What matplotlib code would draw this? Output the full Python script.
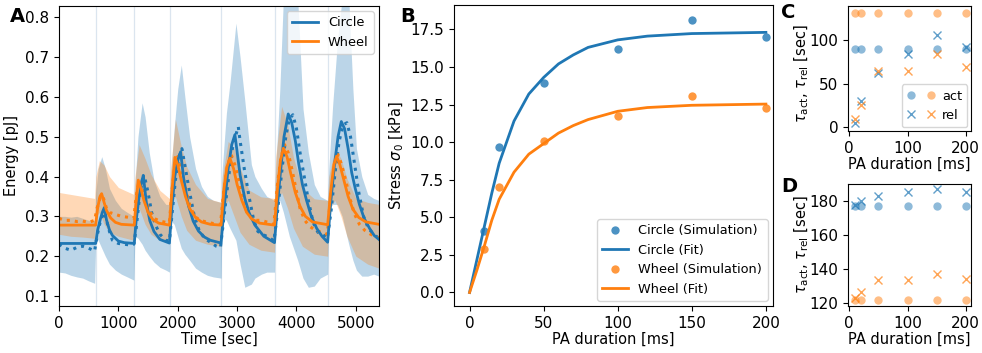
import numpy as np
import matplotlib
matplotlib.use("Agg")
import matplotlib.pyplot as plt
from matplotlib.legend_handler import HandlerTuple

plt.rcParams['font.size'] = 10.5
plt.rcParams['xtick.labelsize'] = 11
plt.rcParams['ytick.labelsize'] = 11
plt.rcParams['legend.fontsize'] = 9.3

BLUE = '#1f77b4'
ORANGE = '#ff7f0e'

# ---- panel A: energy traces (knots) ----
onsets = [619, 1270, 1865, 2730, 3632, 4525]

t_fit_c = [0, 618, 650, 700, 730, 763, 800, 850, 900, 1000, 1100, 1268,
           1300, 1350, 1390, 1420, 1470, 1530, 1600, 1700, 1860,
           1900, 1950, 2000, 2048, 2100, 2180, 2260, 2350, 2450, 2550, 2730,
           2780, 2850, 2910, 2963, 3050, 3130, 3200, 3300, 3450, 3630,
           3680, 3730, 3790, 3861, 3920, 3980, 4040, 4100, 4170, 4250, 4340, 4430, 4525,
           4580, 4640, 4700, 4755, 4810, 4870, 4930, 4990, 5060, 5140, 5230, 5310, 5390]
e_fit_c = [0.232, 0.232, 0.265, 0.295, 0.31, 0.322, 0.291, 0.266, 0.252, 0.238, 0.234, 0.232,
           0.29, 0.35, 0.385, 0.403, 0.336, 0.289, 0.262, 0.242, 0.233,
           0.32, 0.40, 0.44, 0.462, 0.395, 0.327, 0.288, 0.263, 0.248, 0.240, 0.233,
           0.32, 0.42, 0.48, 0.505, 0.404, 0.345, 0.310, 0.278, 0.250, 0.234,
           0.33, 0.41, 0.50, 0.557, 0.535, 0.49, 0.43, 0.38, 0.34, 0.30, 0.27, 0.25, 0.235,
           0.34, 0.43, 0.50, 0.538, 0.52, 0.47, 0.41, 0.37, 0.33, 0.295, 0.27, 0.252, 0.242]

t_fit_w = [0, 618, 650, 690, 718, 760, 800, 870, 950, 1050, 1268,
           1295, 1335, 1380, 1430, 1500, 1580, 1680, 1860,
           1900, 1953, 2000, 2060, 2130, 2200, 2300, 2400, 2550, 2730,
           2780, 2830, 2879, 2940, 3000, 3080, 3160, 3250, 3380, 3630,
           3680, 3730, 3780, 3840, 3900, 3980, 4060, 4150, 4270, 4525,
           4575, 4630, 4675, 4730, 4800, 4870, 4950, 5050, 5170, 5390]
e_fit_w = [0.278, 0.278, 0.32, 0.35, 0.357, 0.335, 0.315, 0.296, 0.285, 0.28, 0.278,
           0.33, 0.391, 0.37, 0.34, 0.31, 0.292, 0.283, 0.278,
           0.36, 0.448, 0.43, 0.39, 0.35, 0.32, 0.297, 0.286, 0.28, 0.278,
           0.37, 0.425, 0.446, 0.42, 0.38, 0.34, 0.31, 0.293, 0.283, 0.278,
           0.37, 0.44, 0.471, 0.45, 0.41, 0.36, 0.325, 0.30, 0.286, 0.279,
           0.36, 0.43, 0.451, 0.43, 0.39, 0.35, 0.318, 0.297, 0.286, 0.28]

t_sim_c = [0, 100, 200, 300, 400, 500, 600, 640, 700, 760, 800, 850, 900, 1000, 1100, 1200, 1260,
           1300, 1350, 1400, 1440, 1500, 1560, 1620, 1700, 1800, 1860,
           1900, 1960, 2020, 2070, 2130, 2200, 2280, 2360, 2450, 2550, 2650, 2720,
           2780, 2850, 2920, 2990, 3020, 3050, 3120, 3200, 3280, 3350, 3420, 3500, 3560, 3620,
           3680, 3750, 3820, 3880, 3940, 4000, 4060, 4130, 4200, 4280, 4360, 4440, 4520,
           4580, 4650, 4720, 4790, 4850, 4910, 4980, 5050, 5130, 5210, 5300, 5390]
e_sim_c = [0.230, 0.220, 0.215, 0.222, 0.225, 0.220, 0.213, 0.25, 0.29, 0.31, 0.29, 0.262, 0.24, 0.232, 0.230, 0.228, 0.230,
           0.27, 0.34, 0.39, 0.40, 0.36, 0.31, 0.28, 0.255, 0.24, 0.238,
           0.30, 0.39, 0.45, 0.47, 0.42, 0.36, 0.30, 0.265, 0.245, 0.235, 0.225, 0.222,
           0.30, 0.39, 0.47, 0.51, 0.525, 0.49, 0.42, 0.35, 0.29, 0.262, 0.255, 0.25, 0.245, 0.238,
           0.31, 0.41, 0.50, 0.545, 0.555, 0.52, 0.46, 0.40, 0.34, 0.285, 0.26, 0.255, 0.245,
           0.31, 0.41, 0.49, 0.53, 0.535, 0.50, 0.43, 0.36, 0.30, 0.27, 0.255, 0.245]

t_sim_w = [0, 100, 200, 300, 400, 500, 600, 640, 700, 740, 800, 850, 950, 1050, 1150, 1260,
           1300, 1350, 1400, 1450, 1520, 1600, 1700, 1800, 1860,
           1900, 1960, 2000, 2060, 2130, 2200, 2280, 2380, 2500, 2600, 2720,
           2780, 2840, 2900, 2960, 3030, 3100, 3180, 3280, 3400, 3520, 3620,
           3680, 3740, 3800, 3860, 3920, 3990, 4060, 4140, 4220, 4320, 4420, 4520,
           4580, 4640, 4700, 4760, 4830, 4900, 4980, 5060, 5150, 5250, 5390]
e_sim_w = [0.295, 0.29, 0.29, 0.287, 0.288, 0.285, 0.29, 0.32, 0.35, 0.35, 0.32, 0.31, 0.305, 0.30, 0.298, 0.295,
           0.35, 0.39, 0.375, 0.345, 0.315, 0.295, 0.288, 0.285, 0.285,
           0.36, 0.44, 0.45, 0.42, 0.37, 0.33, 0.30, 0.29, 0.285, 0.282, 0.28,
           0.37, 0.43, 0.455, 0.43, 0.39, 0.34, 0.305, 0.29, 0.29, 0.285, 0.28,
           0.38, 0.45, 0.48, 0.46, 0.42, 0.37, 0.32, 0.29, 0.275, 0.265, 0.26, 0.255,
           0.36, 0.43, 0.455, 0.43, 0.39, 0.345, 0.305, 0.28, 0.265, 0.255, 0.245]

t_band_c = [0, 100, 200, 300, 400, 500, 600, 620, 660, 720, 780, 850, 950, 1050, 1150, 1260,
            1280, 1330, 1400, 1450, 1520, 1600, 1700, 1800, 1860,
            1880, 1940, 2000, 2060, 2120, 2200, 2300, 2400, 2500, 2600, 2730,
            2750, 2820, 2880, 2980, 3050, 3130, 3240, 3300, 3410, 3500, 3630,
            3650, 3720, 3780, 3880, 4020, 4110, 4200, 4300, 4400, 4525,
            4545, 4610, 4690, 4770, 4880, 4950, 5010, 5100, 5200, 5300, 5390]
c_lo = [0.160, 0.158, 0.152, 0.148, 0.145, 0.138, 0.132, 0.25, 0.24, 0.22, 0.20, 0.18, 0.165, 0.155, 0.148, 0.14,
        0.25, 0.245, 0.23, 0.215, 0.20, 0.185, 0.172, 0.165, 0.16,
        0.29, 0.28, 0.25, 0.22, 0.205, 0.19, 0.17, 0.16, 0.152, 0.148, 0.145,
        0.30, 0.29, 0.27, 0.24, 0.18, 0.122, 0.13, 0.145, 0.155, 0.16, 0.16,
        0.33, 0.34, 0.31, 0.25, 0.19, 0.145, 0.122, 0.125, 0.145, 0.155,
        0.32, 0.33, 0.33, 0.30, 0.23, 0.19, 0.165, 0.15, 0.15, 0.155, 0.15]
c_hi = [0.30, 0.30, 0.298, 0.30, 0.295, 0.29, 0.29, 0.36, 0.42, 0.45, 0.42, 0.37, 0.34, 0.32, 0.31, 0.30,
        0.38, 0.50, 0.585, 0.55, 0.46, 0.39, 0.35, 0.33, 0.33,
        0.40, 0.52, 0.62, 0.68, 0.60, 0.50, 0.42, 0.375, 0.35, 0.34, 0.335,
        0.42, 0.56, 0.635, 0.785, 0.70, 0.59, 0.43, 0.40, 0.37, 0.35, 0.34,
        0.42, 0.62, 0.85, 0.85, 0.85, 0.57, 0.46, 0.38, 0.35, 0.34,
        0.42, 0.58, 0.74, 0.85, 0.85, 0.62, 0.47, 0.40, 0.355, 0.345, 0.34]

t_band_w = [0, 200, 400, 600, 620, 680, 760, 850, 1000, 1260,
            1280, 1350, 1450, 1550, 1700, 1860,
            1880, 1960, 2060, 2150, 2300, 2500, 2730,
            2750, 2850, 2950, 3050, 3200, 3400, 3630,
            3650, 3750, 3850, 3950, 4100, 4300, 4525,
            4545, 4650, 4750, 4850, 5000, 5200, 5390]
w_lo = [0.255, 0.25, 0.248, 0.245, 0.30, 0.31, 0.28, 0.26, 0.25, 0.24,
        0.30, 0.32, 0.28, 0.255, 0.24, 0.235,
        0.33, 0.35, 0.30, 0.265, 0.24, 0.23, 0.225,
        0.32, 0.34, 0.30, 0.26, 0.23, 0.215, 0.21,
        0.33, 0.36, 0.32, 0.27, 0.225, 0.205, 0.20,
        0.32, 0.34, 0.30, 0.25, 0.20, 0.18, 0.17]
t_hi_w = [0, 200, 400, 600, 620, 680, 720, 780, 850, 950, 1050, 1260,
          1280, 1330, 1360, 1420, 1500, 1600, 1700, 1860,
          1880, 1950, 2000, 2080, 2160, 2260, 2380, 2500, 2730,
          2750, 2830, 2880, 2950, 3030, 3120, 3220, 3350, 3630,
          3650, 3720, 3776, 3840, 3920, 4000, 4100, 4250, 4525,
          4545, 4620, 4674, 4740, 4820, 4900, 5000, 5200, 5390]
w_hi = [0.36, 0.355, 0.35, 0.345, 0.40, 0.44, 0.446, 0.42, 0.40, 0.38, 0.365, 0.355,
        0.40, 0.47, 0.485, 0.46, 0.42, 0.39, 0.365, 0.345,
        0.42, 0.55, 0.52, 0.46, 0.42, 0.39, 0.36, 0.345, 0.335,
        0.40, 0.48, 0.50, 0.47, 0.43, 0.39, 0.36, 0.35, 0.345,
        0.45, 0.56, 0.59, 0.54, 0.47, 0.41, 0.37, 0.345, 0.34,
        0.40, 0.46, 0.48, 0.45, 0.41, 0.37, 0.345, 0.335, 0.33]

# ---- panel B: peak stress vs PA duration ----
pa = [10, 20, 50, 100, 150, 200]
stress_c = [4.1, 9.7, 13.9, 16.2, 18.1, 17.0]
stress_w = [2.9, 7.0, 10.1, 11.75, 13.1, 12.3]
pa_fit = [0, 5, 10, 15, 20, 30, 40, 50, 60, 70, 80, 100, 120, 150, 200]
fit_c = [0, 2.2, 4.4, 6.6, 8.6, 11.4, 13.2, 14.3, 15.2, 15.8, 16.3, 16.8, 17.05, 17.22, 17.3]
fit_w = [0, 1.5, 3.1, 4.8, 6.2, 8.0, 9.2, 9.9, 10.6, 11.1, 11.5, 12.05, 12.3, 12.45, 12.53]

# ---- panels C/D: time constants ----
tact_c_C = [90, 90, 90, 90, 90, 90]
tact_w_C = [131, 131, 131, 131, 131, 131]
trel_c_C = [5, 30.5, 62, 84, 105.5, 92]
trel_w_C = [10, 25.5, 65, 65, 83.5, 69.5]
tact_c_D = [177, 177, 177, 177, 177, 177]
tact_w_D = [121.3, 121.3, 121.3, 121.3, 121.3, 121.3]
trel_c_D = [177.5, 180, 183, 185, 187, 185.5]
trel_w_D = [123, 126, 133.5, 133.5, 137, 134]

W, H = 982, 353
fig = plt.figure(figsize=(W / 100, H / 100), dpi=100)

def box(l, r, t, b):
    return [l / W, 1 - b / H, (r - l) / W, (b - t) / H]

axA = fig.add_axes(box(59, 379, 6, 306))
axB = fig.add_axes(box(454, 772.7, 5.3, 306))
axC = fig.add_axes(box(848, 971, 5.7, 131))
axD = fig.add_axes(box(848, 971, 184, 306))

# A
for t0 in onsets:
    axA.axvline(t0, color='#dbe5ef', lw=0.9, zorder=0)
axA.fill_between(t_band_c, c_lo, c_hi, color=BLUE, alpha=0.3, lw=0)
axA.fill_between(t_band_w, w_lo, np.interp(t_band_w, t_hi_w, w_hi), color=ORANGE, alpha=0.3, lw=0)
axA.plot(t_sim_c, e_sim_c, ':', color=BLUE, lw=2.2)
axA.plot(t_sim_w, e_sim_w, ':', color=ORANGE, lw=2.2)
axA.plot(t_fit_c, e_fit_c, '-', color=BLUE, lw=2, label='Circle')
axA.plot(t_fit_w, e_fit_w, '-', color=ORANGE, lw=2, label='Wheel')
axA.set_xlim(0, 5390)
axA.set_ylim(0.075, 0.828)
axA.set_xticks([0, 1000, 2000, 3000, 4000, 5000])
axA.set_yticks([0.1, 0.2, 0.3, 0.4, 0.5, 0.6, 0.7, 0.8])
axA.set_xlabel('Time [sec]', labelpad=1)
axA.set_ylabel('Energy [pJ]', labelpad=4)
axA.legend(loc='upper right', handlelength=2.0, borderaxespad=0.4)

# B
axB.plot(pa, stress_c, 'o', color=BLUE, alpha=0.8, ms=6, mec='none', label='Circle (Simulation)')
axB.plot(pa_fit, fit_c, '-', color=BLUE, lw=2, label='Circle (Fit)')
axB.plot(pa, stress_w, 'o', color=ORANGE, alpha=0.8, ms=6, mec='none', label='Wheel (Simulation)')
axB.plot(pa_fit, fit_w, '-', color=ORANGE, lw=2, label='Wheel (Fit)')
axB.set_xlim(-10.5, 204.6)
axB.set_ylim(-0.9, 19.1)
axB.set_xticks([0, 50, 100, 150, 200])
axB.set_yticks(np.arange(0, 17.6, 2.5))
axB.yaxis.set_major_formatter(matplotlib.ticker.FormatStrFormatter('%.1f'))
axB.set_xlabel('PA duration [ms]', labelpad=1)
axB.set_ylabel(r'Stress $\sigma_0$ [kPa]', labelpad=3)
axB.legend(loc='lower right', borderaxespad=0.4)

# C and D
def tau_panel(ax, act_c, act_w, rel_c, rel_w, with_legend):
    ac, = ax.plot(pa, act_c, 'o', color=BLUE, alpha=0.5, ms=6, mec='none')
    aw, = ax.plot(pa, act_w, 'o', color=ORANGE, alpha=0.5, ms=6, mec='none')
    rc, = ax.plot(pa, rel_c, 'x', color=BLUE, alpha=0.7, ms=5.5)
    rw, = ax.plot(pa, rel_w, 'x', color=ORANGE, alpha=0.7, ms=5.5)
    ax.set_xlim(-2.2, 209)
    ax.set_xticks([0, 100, 200])
    ax.set_xlabel('PA duration [ms]', labelpad=1)
    ax.set_ylabel(r'$\tau_\mathrm{act}$, $\tau_\mathrm{rel}$ [sec]')
    if with_legend:
        ax.legend([(ac, aw), (rc, rw)], ['act', 'rel'], loc='lower right',
                  handler_map={tuple: HandlerTuple(ndivide=None, pad=0.8)},
                  handlelength=2.2, borderaxespad=0.3, handletextpad=0.5)

tau_panel(axC, tact_c_C, tact_w_C, trel_c_C, trel_w_C, True)
axC.set_ylim(-4, 139)
axC.set_yticks([0, 50, 100])
axC.yaxis.set_label_coords(-0.30, 0.46)
tau_panel(axD, tact_c_D, tact_w_D, trel_c_D, trel_w_D, False)
axD.set_ylim(118, 190)
axD.set_yticks([120, 140, 160, 180])
axD.yaxis.set_label_coords(-0.30, 0.5)

for lab, x, y in [('A', 10, 17), ('B', 400, 17), ('C', 781, 12), ('D', 781, 187)]:
    fig.text(x / W, 1 - y / H, lab, fontsize=14, fontweight='bold', va='center', ha='left')

fig.savefig('out.png', dpi=100)
